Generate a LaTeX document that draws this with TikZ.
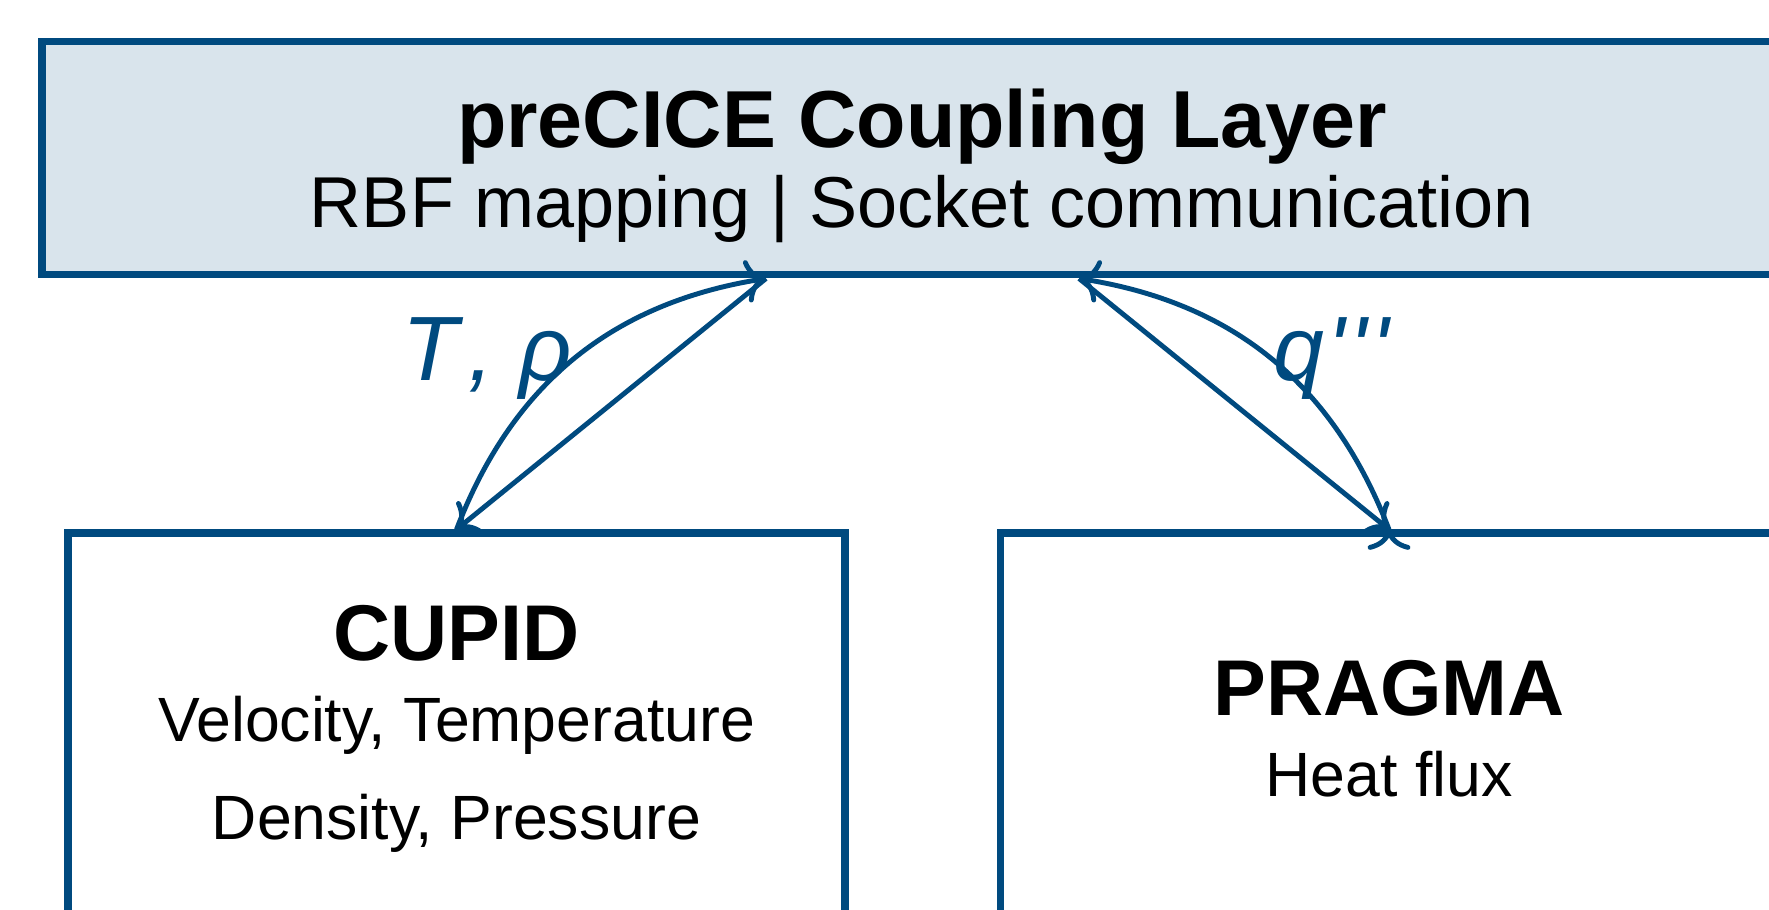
\documentclass[tikz,border=0pt]{standalone}
\usepackage{fontspec}
\setmainfont{Liberation Sans}
\newfontfamily\labelfont{Liberation Sans}[Ligatures=TeXOff]
\usetikzlibrary{positioning,calc,arrows.meta}
\definecolor{precblue}{RGB}{0,74,127}

\begin{document}
\begin{tikzpicture}[node distance=2.51cm,
    box/.style={draw=precblue, line width=2pt, align=center, inner sep=0pt},
    link/.style={-{To[length=5.8pt]}, draw=precblue, line width=1.4pt},
    lbl/.style={text=precblue, inner sep=0pt, font=\fontsize{26}{30}\labelfont\itshape}]
  \useasboundingbox (0,0) rectangle (17.69,9.10);
  \clip (0,0) rectangle (17.69,9.10);
  \node (P0) [box, fill=precblue!15, minimum width=17.6cm, minimum height=2.335cm, text depth=0pt, font=\fontsize{20.5}{23}\selectfont] at (9.22,7.5175)
    {{\fontsize{23}{23}\selectfont\bfseries preCICE Coupling Layer}\\RBF mapping | Socket communication};
  \node (S1) [box, below=of P0.south, xshift=-4.655cm, minimum width=7.77cm, minimum height=3.92cm, font=\fontsize{17.8}{23}\selectfont]
    {{\fontsize{22.5}{23}\selectfont\bfseries CUPID}\\Velocity, Temperature\\[0.18cm]Density, Pressure};
  \node (S2) [box, below=of P0.south, xshift=4.67cm, minimum width=7.77cm, minimum height=3.92cm, font=\fontsize{17.8}{23}\selectfont]
    {{\fontsize{22.5}{23}\selectfont\bfseries PRAGMA}\\Heat flux};
  \coordinate (P1) at ($(P0.south)+(-1.56,0)$);
  \coordinate (P2) at ($(P0.south)+(1.57,0)$);
  \path[link]
    (P1) edge (S1.north)
    (S1.north) edge[bend left=30] node[lbl, left] {T\kern0.12em, ρ} (P1)
    (P2) edge (S2.north)
    (S2.north) edge[bend right=30] node[lbl, right] {q\kern0.04em'\kern0.05em'\kern0.05em'} (P2);
\end{tikzpicture}
\end{document}
